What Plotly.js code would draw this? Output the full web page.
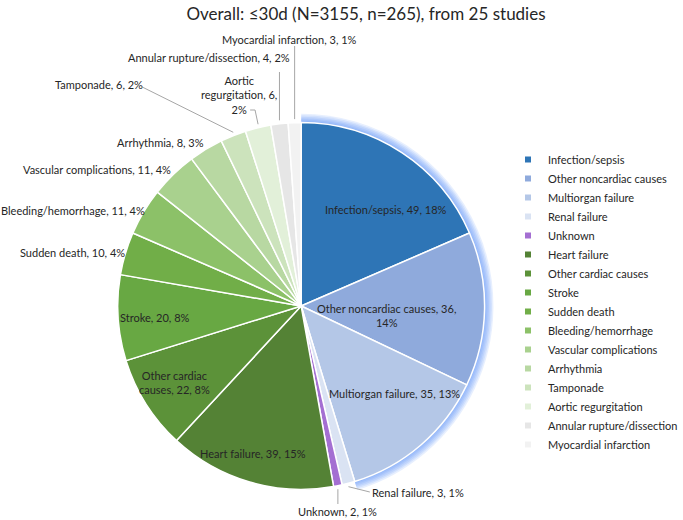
<!DOCTYPE html>
<html><head><meta charset="utf-8">
<script src="https://cdn.plot.ly/plotly-3.0.1.min.js"></script>
<style>html,body{margin:0;padding:0;background:#fff}#chart{width:683px;height:520px}</style>
</head><body><div id="chart"></div>
<script>
// ---- data ----
const causes = ['Infection/sepsis','Other noncardiac causes','Multiorgan failure','Renal failure','Unknown','Heart failure','Other cardiac causes','Stroke','Sudden death','Bleeding/hemorrhage','Vascular complications','Arrhythmia','Tamponade','Aortic regurgitation','Annular rupture/dissection','Myocardial infarction'];
const deaths = [49,36,35,3,2,39,22,20,10,11,11,8,6,6,4,3];
const titleText = 'Overall: ≤30d (N=3155, n=265), from 25 studies';

// ---- styles ----
const sliceColors = ['#2E75B6','#8FAADC','#B4C7E7','#DAE3F3','#A46FD2','#548235','#5C9239','#68A843','#71AE48','#8CC168','#A9D18E','#B8D8A2','#CCE3BC','#E2F0D9','#E6E6E6','#F2F2F2'];
const W = 683, H = 520, CX = 307, CY = 306, R = 187;
const FONT = 'Lato, "Open Sans", sans-serif';
const TXT = '#262626';
// label placement (polar: k = fraction of radius, dth = degrees from slice middle; or pixel anchor with leader)
const placement = [
  {k:0.69, dth:8.6},
  {k:0.47, dth:5.5, wrap:28},
  {k:0.69, dth:-6.7},
  {at:[379,492], xanchor:'left', lead:[[377,492]]},
  {at:[344,511], vlead:504},
  {k:0.83, dth:2.1},
  {k:0.80, dth:1.6, wrap:14},
  {k:0.80, dth:-0.5},
  {k:1.0, xanchor:'right'},
  {k:0.995, xanchor:'right'},
  {k:1.02, xanchor:'right'},
  {k:1.025, xanchor:'right'},
  {at:[146,85], xanchor:'right', lead:[[145,87]]},
  {at:[244,95], wrap:17, lead:[[260,110],[255,110]]},
  {at:[296,57], xanchor:'right', vlead:72},
  {at:[295,40], vlead:46}
];

const total = deaths.reduce((a,b)=>a+b,0);
const px = x => x / W, py = y => 1 - y / H;
function wrapText(s, max){
  if(!max) return s;
  const words = s.split(' '); const lines = []; let cur = '';
  words.forEach(w => { const t = cur ? cur + ' ' + w : w; if(t.length > max && cur){ lines.push(cur); cur = w; } else cur = t; });
  if(cur) lines.push(cur);
  return lines.join('<br>');
}
function polar(thDeg, k){ const t = thDeg*Math.PI/180; return [CX + R*k*Math.sin(t), CY - R*k*Math.cos(t)]; }

let cum = 0;
const annotations = [], shapes = [];
deaths.forEach((v,i) => {
  const mid = (cum + v/2) / total * 360; cum += v;
  const pct = Math.round(v/total*100);
  const p = placement[i];
  const txt = wrapText(causes[i] + ', ' + v + ', ' + pct + '%', p.wrap);
  const pos = p.at ? p.at : polar(mid + (p.dth||0), p.k);
  annotations.push({x:px(pos[0]), y:py(pos[1]), xref:'paper', yref:'paper', text:txt, showarrow:false,
    xanchor:p.xanchor||'center', yanchor:p.yanchor||'middle', align:'center', borderpad:0, borderwidth:0,
    font:{family:FONT, size:11, color:TXT}});
  const e = polar(mid, 1);
  if(p.lead){
    let d = 'M' + px(e[0]) + ',' + py(e[1]);
    p.lead.forEach(q => { d += ' L' + px(q[0]) + ',' + py(q[1]); });
    shapes.push({type:'path', xref:'paper', yref:'paper', path:d, line:{color:'#A6A6A6', width:1}});
  }
  if(p.vlead !== undefined){
    shapes.push({type:'line', xref:'paper', yref:'paper', x0:px(e[0]), y0:py(e[1]), x1:px(e[0]), y1:py(p.vlead), line:{color:'#A6A6A6', width:1}});
  }
});

function dom(r){ return {x:[(CX-r)/W,(CX+r)/W], y:[1-(CY+r)/H, 1-(CY-r)/H]}; }
const glowColors = causes.map((c,i) => i < 3 ? 'rgba(70,135,245,0.13)' : 'rgba(0,0,0,0)');
const traces = [];
[9,7.5,6,4.5,3,1.5].forEach(d => traces.push({type:'pie', labels:causes, values:deaths, sort:false, direction:'clockwise', rotation:0,
  domain:dom(R+d), marker:{colors:glowColors, line:{width:0}}, textinfo:'none', hoverinfo:'skip', showlegend:false}));
traces.push({type:'pie', labels:causes, values:deaths, sort:false, direction:'clockwise', rotation:0,
  domain:dom(R), marker:{colors:sliceColors, line:{color:'#FFFFFF', width:1.5}}, textinfo:'none',
  hoverinfo:'label+value+percent', showlegend:false});
// legend entries (small square keys, as in the reference)
causes.forEach((c,i) => traces.push({type:'scatter', x:[null], y:[null], mode:'markers', name:c,
  marker:{symbol:'square', size:6, color:sliceColors[i]}, hoverinfo:'skip', showlegend:true}));

const layout = {
  width:W, height:H, margin:{l:0,r:0,t:0,b:0}, paper_bgcolor:'#fff', plot_bgcolor:'rgba(0,0,0,0)',
  xaxis:{visible:false}, yaxis:{visible:false},
  title:{text:titleText, x:366/W, xanchor:'center', y:py(14), yanchor:'middle', font:{family:FONT, size:17, color:TXT}},
  legend:{x:518/W, xanchor:'left', y:py(145), yanchor:'top', font:{family:FONT, size:11, color:TXT}, itemwidth:30, bgcolor:'rgba(0,0,0,0)'},
  annotations, shapes
};
Plotly.newPlot('chart', traces, layout, {displayModeBar:false, staticPlot:true});
</script></body></html>
